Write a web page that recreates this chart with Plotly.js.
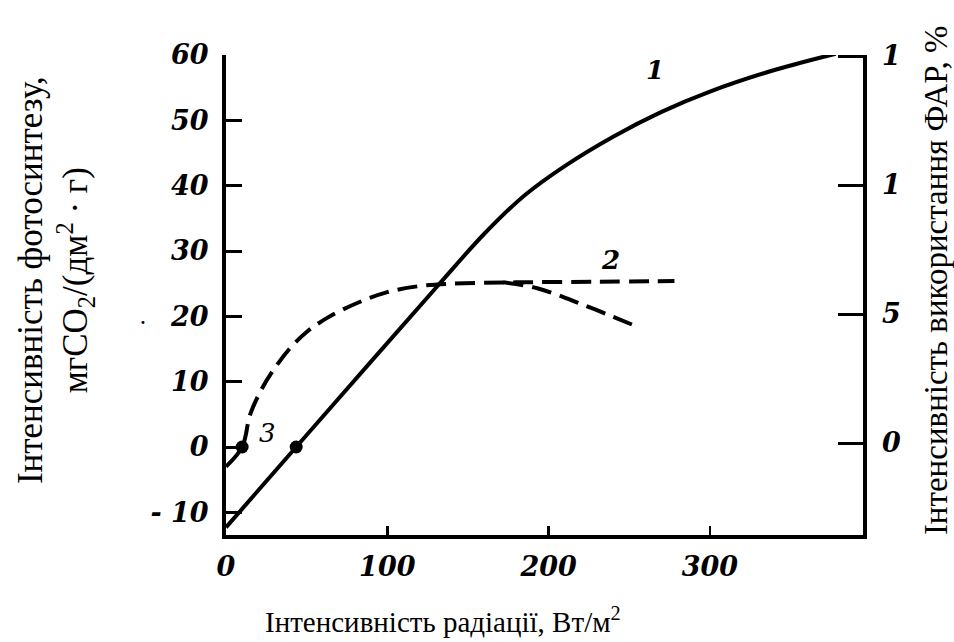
<!DOCTYPE html>
<html>
<head>
<meta charset="utf-8">
<script src="https://cdn.plot.ly/plotly-3.0.1.min.js"></script>
<style>html,body{margin:0;padding:0;background:#fff;}#chart{width:954px;height:642px;}</style>
</head>
<body>
<div id="chart"></div>
<script>
// Curve 1 (solid): photosynthesis intensity
const curve1X = [0, 43.5, 90, 131, 160, 185, 210, 240, 270, 300, 340, 378];
const curve1Y = [-12.3, 0, 13.1, 24.6, 32.6, 38.5, 43.0, 47.5, 51.3, 54.4, 57.7, 60.2];
// Curve 2 (dashed, flat branch)
const curve2X = [0, 10, 15, 22, 30, 40, 50, 63, 81, 100, 119, 140, 180, 230, 278];
const curve2Y = [-3, 0, 5, 8.8, 12, 15.2, 17.6, 19.8, 22, 23.7, 24.6, 25.0, 25.2, 25.3, 25.4];
// Curve 2 (dashed, declining branch)
const curve2bX = [172, 193, 222, 255];
const curve2bY = [25.2, 24.3, 21.7, 18.4];
// Marked points
const pointsX = [10, 43.5];
const pointsY = [0, 0];
// Tick labels
const xTickVals = [0, 100, 200, 300];
const xTickText = ['0', '100', '200', '300'];
const yTickVals = [-10, 0, 10, 20, 30, 40, 50, 60];
const yTickText = ['- 10', '0', '10', '20', '30', '40', '50', '60'];
const y2TickVals = [0, 5, 10, 15];
const y2TickText = ['0', '5', '1', '1'];
// Curve labels
const labelText = ['1', '2', '3'];
const labelX = [266, 238.5, 26];
const labelY = [57.7, 28.6, 2.1];

const tickFont = {family: 'DejaVu Serif', size: 27, color: '#000', weight: 'bold', style: 'italic'};

const traces = [
  {x: curve1X, y: curve1Y, type: 'scatter', mode: 'lines',
   line: {color: '#000', width: 4, shape: 'spline', smoothing: 1}, hoverinfo: 'skip'},
  {x: curve2X, y: curve2Y, type: 'scatter', mode: 'lines',
   line: {color: '#000', width: 4, dash: '20px,9px', shape: 'spline', smoothing: 1}, hoverinfo: 'skip'},
  {x: curve2bX, y: curve2bY, type: 'scatter', mode: 'lines',
   line: {color: '#000', width: 4, dash: '20px,9px', shape: 'spline', smoothing: 1}, hoverinfo: 'skip'},
  {x: pointsX, y: pointsY, type: 'scatter', mode: 'markers',
   marker: {color: '#000', size: 13}, hoverinfo: 'skip'},
  {x: [0], y: [0], yaxis: 'y2', type: 'scatter', mode: 'markers',
   marker: {size: 1, opacity: 0}, hoverinfo: 'skip'}
];

const annotations = labelText.map((t, i) => ({
  x: labelX[i], y: labelY[i], xref: 'x', yref: 'y', text: t, showarrow: false,
  xanchor: 'center', yanchor: 'middle',
  font: {family: 'DejaVu Serif', size: 26, color: '#000', weight: i < 2 ? 'bold' : 'normal', style: 'italic'}
}));
annotations.push(
  {xref: 'paper', yref: 'paper', x: 0.3407, y: -0.177, xanchor: 'center', yanchor: 'middle', showarrow: false,
   text: 'Інтенсивність радіації, Вт/м<sup>2</sup>', font: {family: 'Liberation Serif', size: 29, color: '#000'}},
  {xref: 'paper', yref: 'paper', x: (55 - 226) / 637, y: 0.531, xanchor: 'center', yanchor: 'middle',
   showarrow: false, textangle: -90,
   text: 'Інтенсивність фотосинтезу,<br>мгCO<sub>2</sub>/(дм<sup>2</sup> · г)',
   font: {family: 'Liberation Serif', size: 35, color: '#000'}},
  {xref: 'paper', yref: 'paper', x: (936 - 226) / 637, y: 0.531, xanchor: 'center', yanchor: 'middle',
   showarrow: false, textangle: -90,
   text: 'Інтенсивність використання ФАР, %', font: {family: 'Liberation Serif', size: 33, color: '#000'}},
  {xref: 'paper', yref: 'paper', x: (143 - 226) / 637, y: (535 - 322) / 480, xanchor: 'center', yanchor: 'middle',
   showarrow: false, text: '•', font: {family: 'DejaVu Sans', size: 10, color: '#000'}}
);

const layout = {
  width: 954, height: 642,
  margin: {l: 226, r: 91, t: 55, b: 107, pad: 0},
  paper_bgcolor: '#fff', plot_bgcolor: '#fff',
  showlegend: false,
  xaxis: {range: [0, 394.9], showgrid: false, zeroline: false, showline: true, linecolor: '#000', linewidth: 3.5,
          ticks: 'inside', ticklen: 9, tickwidth: 2.5, tickcolor: '#000',
          tickvals: xTickVals, ticktext: xTickText, tickfont: tickFont, ticklabelstandoff: 5, fixedrange: true},
  yaxis: {range: [-13.47, 60], showgrid: false, zeroline: false, showline: true, linecolor: '#000', linewidth: 4,
          ticks: 'inside', ticklen: 16, tickwidth: 3, tickcolor: '#000',
          tickvals: yTickVals, ticktext: yTickText, tickfont: tickFont, ticklabelstandoff: 8, fixedrange: true},
  yaxis2: {range: [-3.566, 15.04], overlaying: 'y', side: 'right', anchor: 'x',
           showgrid: false, zeroline: false, showline: true, linecolor: '#000', linewidth: 3.5,
           ticks: 'inside', ticklen: 25, tickwidth: 3, tickcolor: '#000',
           tickvals: y2TickVals, ticktext: y2TickText, tickfont: tickFont, ticklabelstandoff: 10, fixedrange: true},
  annotations: annotations
};

Plotly.newPlot('chart', traces, layout, {staticPlot: true, displayModeBar: false});
</script>
</body>
</html>
